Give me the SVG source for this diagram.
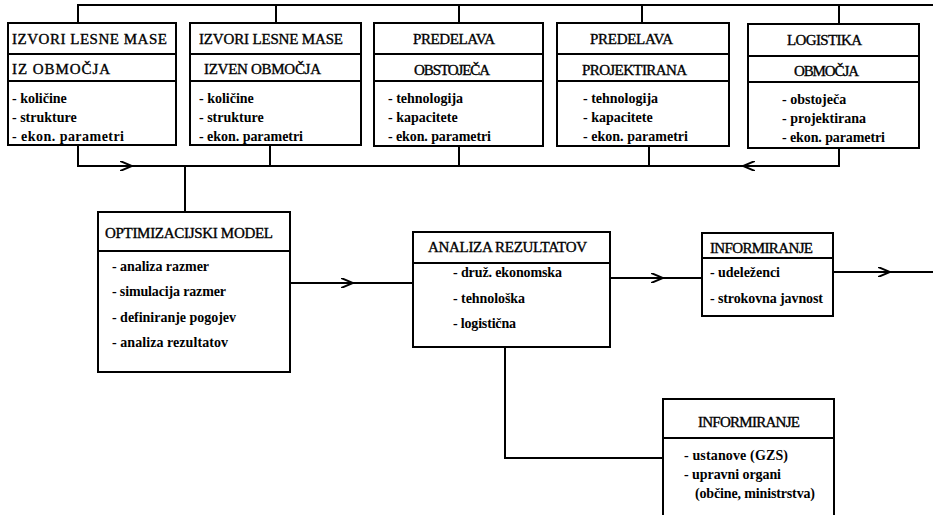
<svg xmlns="http://www.w3.org/2000/svg" width="933" height="515" viewBox="0 0 933 515">
<style>
.bx{fill:#fff;stroke:#000;stroke-width:2}
.dv{stroke:#000;stroke-width:2}
.cn{fill:none;stroke:#000;stroke-width:2}
.t{font-family:"Liberation Serif","Times New Roman",serif;font-size:15px;fill:#000;stroke:#000;stroke-width:0.35}
.i{font-family:"Liberation Serif","Times New Roman",serif;font-size:14px;font-weight:bold;fill:#000}
</style>
<defs>
<marker id="chev" viewBox="0 0 12 10" refX="12" refY="5" markerWidth="12" markerHeight="10" markerUnits="userSpaceOnUse" orient="auto">
<path d="M0,0 L12,5 L0,10" fill="none" stroke="#000" stroke-width="2"/>
</marker>
</defs>
<rect width="933" height="515" fill="#fff"/>
<g id="connectors">
<path class="cn" d="M78,23 V5 H933"/>
<path class="cn" d="M276,5 V23"/>
<path class="cn" d="M459,5 V23"/>
<path class="cn" d="M642,5 V23"/>
<path class="cn" d="M839,5 V24"/>
<path class="cn" d="M78,145 V166 H132" marker-end="url(#chev)"/>
<path class="cn" d="M132,166 H839"/>
<path class="cn" d="M270,145 V166"/>
<path class="cn" d="M459,146 V166"/>
<path class="cn" d="M649,146 V166"/>
<path class="cn" d="M839,148 V166 H743" marker-end="url(#chev)"/>
<path class="cn" d="M185,166 V212"/>
<path class="cn" d="M290,283 H353" marker-end="url(#chev)"/>
<path class="cn" d="M353,283 H413"/>
<path class="cn" d="M610,278 H663" marker-end="url(#chev)"/>
<path class="cn" d="M663,278 H702"/>
<path class="cn" d="M833,272 H890" marker-end="url(#chev)"/>
<path class="cn" d="M890,272 H933"/>
<path class="cn" d="M505,347 V458 H663"/>
</g>
<g id="izvori-iz">
<rect class="bx" x="8" y="23" width="168" height="122"/>
<line class="dv" x1="8" y1="54" x2="176" y2="54"/>
<line class="dv" x1="8" y1="81" x2="176" y2="81"/>
<text class="t" x="12" y="44" textLength="155" lengthAdjust="spacing">IZVORI LESNE MASE</text>
<text class="t" x="12" y="74" textLength="98" lengthAdjust="spacing">IZ OBMOČJA</text>
<text class="i" x="12" y="103">- količine</text>
<text class="i" x="12" y="122">- strukture</text>
<text class="i" x="12" y="141" textLength="112" lengthAdjust="spacing">- ekon. parametri</text>
</g>
<g id="izvori-izven">
<rect class="bx" x="190" y="23" width="171" height="122"/>
<line class="dv" x1="190" y1="54" x2="361" y2="54"/>
<line class="dv" x1="190" y1="81" x2="361" y2="81"/>
<text class="t" x="199" y="44" textLength="144" lengthAdjust="spacing">IZVORI LESNE MASE</text>
<text class="t" x="204" y="74" textLength="117" lengthAdjust="spacing">IZVEN OBMOČJA</text>
<text class="i" x="199" y="103">- količine</text>
<text class="i" x="199" y="122">- strukture</text>
<text class="i" x="199" y="141" textLength="104" lengthAdjust="spacing">- ekon. parametri</text>
</g>
<g id="predelava-obstoječa">
<rect class="bx" x="374" y="23" width="169" height="123"/>
<line class="dv" x1="374" y1="54" x2="543" y2="54"/>
<line class="dv" x1="374" y1="81" x2="543" y2="81"/>
<text class="t" x="413" y="44" textLength="82" lengthAdjust="spacing">PREDELAVA</text>
<text class="t" x="414" y="75" textLength="76" lengthAdjust="spacing">OBSTOJEČA</text>
<text class="i" x="388" y="103">- tehnologija</text>
<text class="i" x="388" y="122">- kapacitete</text>
<text class="i" x="388" y="141" textLength="103" lengthAdjust="spacing">- ekon. parametri</text>
</g>
<g id="predelava-projektirana">
<rect class="bx" x="557" y="23" width="172" height="123"/>
<line class="dv" x1="557" y1="54" x2="729" y2="54"/>
<line class="dv" x1="557" y1="81" x2="729" y2="81"/>
<text class="t" x="590" y="44" textLength="83" lengthAdjust="spacing">PREDELAVA</text>
<text class="t" x="582" y="75" textLength="105" lengthAdjust="spacing">PROJEKTIRANA</text>
<text class="i" x="583" y="103">- tehnologija</text>
<text class="i" x="583" y="122">- kapacitete</text>
<text class="i" x="583" y="141" textLength="105" lengthAdjust="spacing">- ekon. parametri</text>
</g>
<g id="logistika">
<rect class="bx" x="748" y="24" width="171" height="124"/>
<line class="dv" x1="748" y1="56" x2="919" y2="56"/>
<line class="dv" x1="748" y1="82" x2="919" y2="82"/>
<text class="t" x="787" y="45" textLength="75" lengthAdjust="spacing">LOGISTIKA</text>
<text class="t" x="794" y="76" textLength="65" lengthAdjust="spacing">OBMOČJA</text>
<text class="i" x="782" y="104">- obstoječa</text>
<text class="i" x="782" y="123">- projektirana</text>
<text class="i" x="782" y="142" textLength="103" lengthAdjust="spacing">- ekon. parametri</text>
</g>
<g id="optimizacijski-model">
<rect class="bx" x="98" y="212" width="192" height="160"/>
<line class="dv" x1="98" y1="251" x2="290" y2="251"/>
<text class="t" x="105" y="238" textLength="168" lengthAdjust="spacing">OPTIMIZACIJSKI MODEL</text>
<text class="i" x="112" y="271" textLength="97" lengthAdjust="spacing">- analiza razmer</text>
<text class="i" x="112" y="296" textLength="114" lengthAdjust="spacing">- simulacija razmer</text>
<text class="i" x="112" y="322" textLength="124" lengthAdjust="spacing">- definiranje pogojev</text>
<text class="i" x="112" y="347" textLength="116" lengthAdjust="spacing">- analiza rezultatov</text>
</g>
<g id="analiza-rezultatov">
<rect class="bx" x="413" y="232" width="197" height="115"/>
<line class="dv" x1="413" y1="263" x2="610" y2="263"/>
<text class="t" x="428" y="252" textLength="159" lengthAdjust="spacing">ANALIZA REZULTATOV</text>
<text class="i" x="453" y="277" textLength="109" lengthAdjust="spacing">- druž. ekonomska</text>
<text class="i" x="453" y="303" textLength="72" lengthAdjust="spacing">- tehnološka</text>
<text class="i" x="453" y="328" textLength="63" lengthAdjust="spacing">- logistična</text>
</g>
<g id="informiranje-1">
<rect class="bx" x="702" y="233" width="131" height="83"/>
<line class="dv" x1="702" y1="258" x2="833" y2="258"/>
<text class="t" x="710" y="253" textLength="103" lengthAdjust="spacing">INFORMIRANJE</text>
<text class="i" x="710" y="277" textLength="70" lengthAdjust="spacing">- udeleženci</text>
<text class="i" x="710" y="303" textLength="113" lengthAdjust="spacing">- strokovna javnost</text>
</g>
<g id="informiranje-2">
<rect class="bx" x="663" y="399" width="171" height="125"/>
<line class="dv" x1="663" y1="438" x2="834" y2="438"/>
<text class="t" x="698" y="427" textLength="102" lengthAdjust="spacing">INFORMIRANJE</text>
<text class="i" x="684" y="460" textLength="104" lengthAdjust="spacing">- ustanove (GZS)</text>
<text class="i" x="684" y="479" textLength="97" lengthAdjust="spacing">- upravni organi</text>
<text class="i" x="695" y="498" textLength="120" lengthAdjust="spacing">(občine, ministrstva)</text>
</g>
</svg>
